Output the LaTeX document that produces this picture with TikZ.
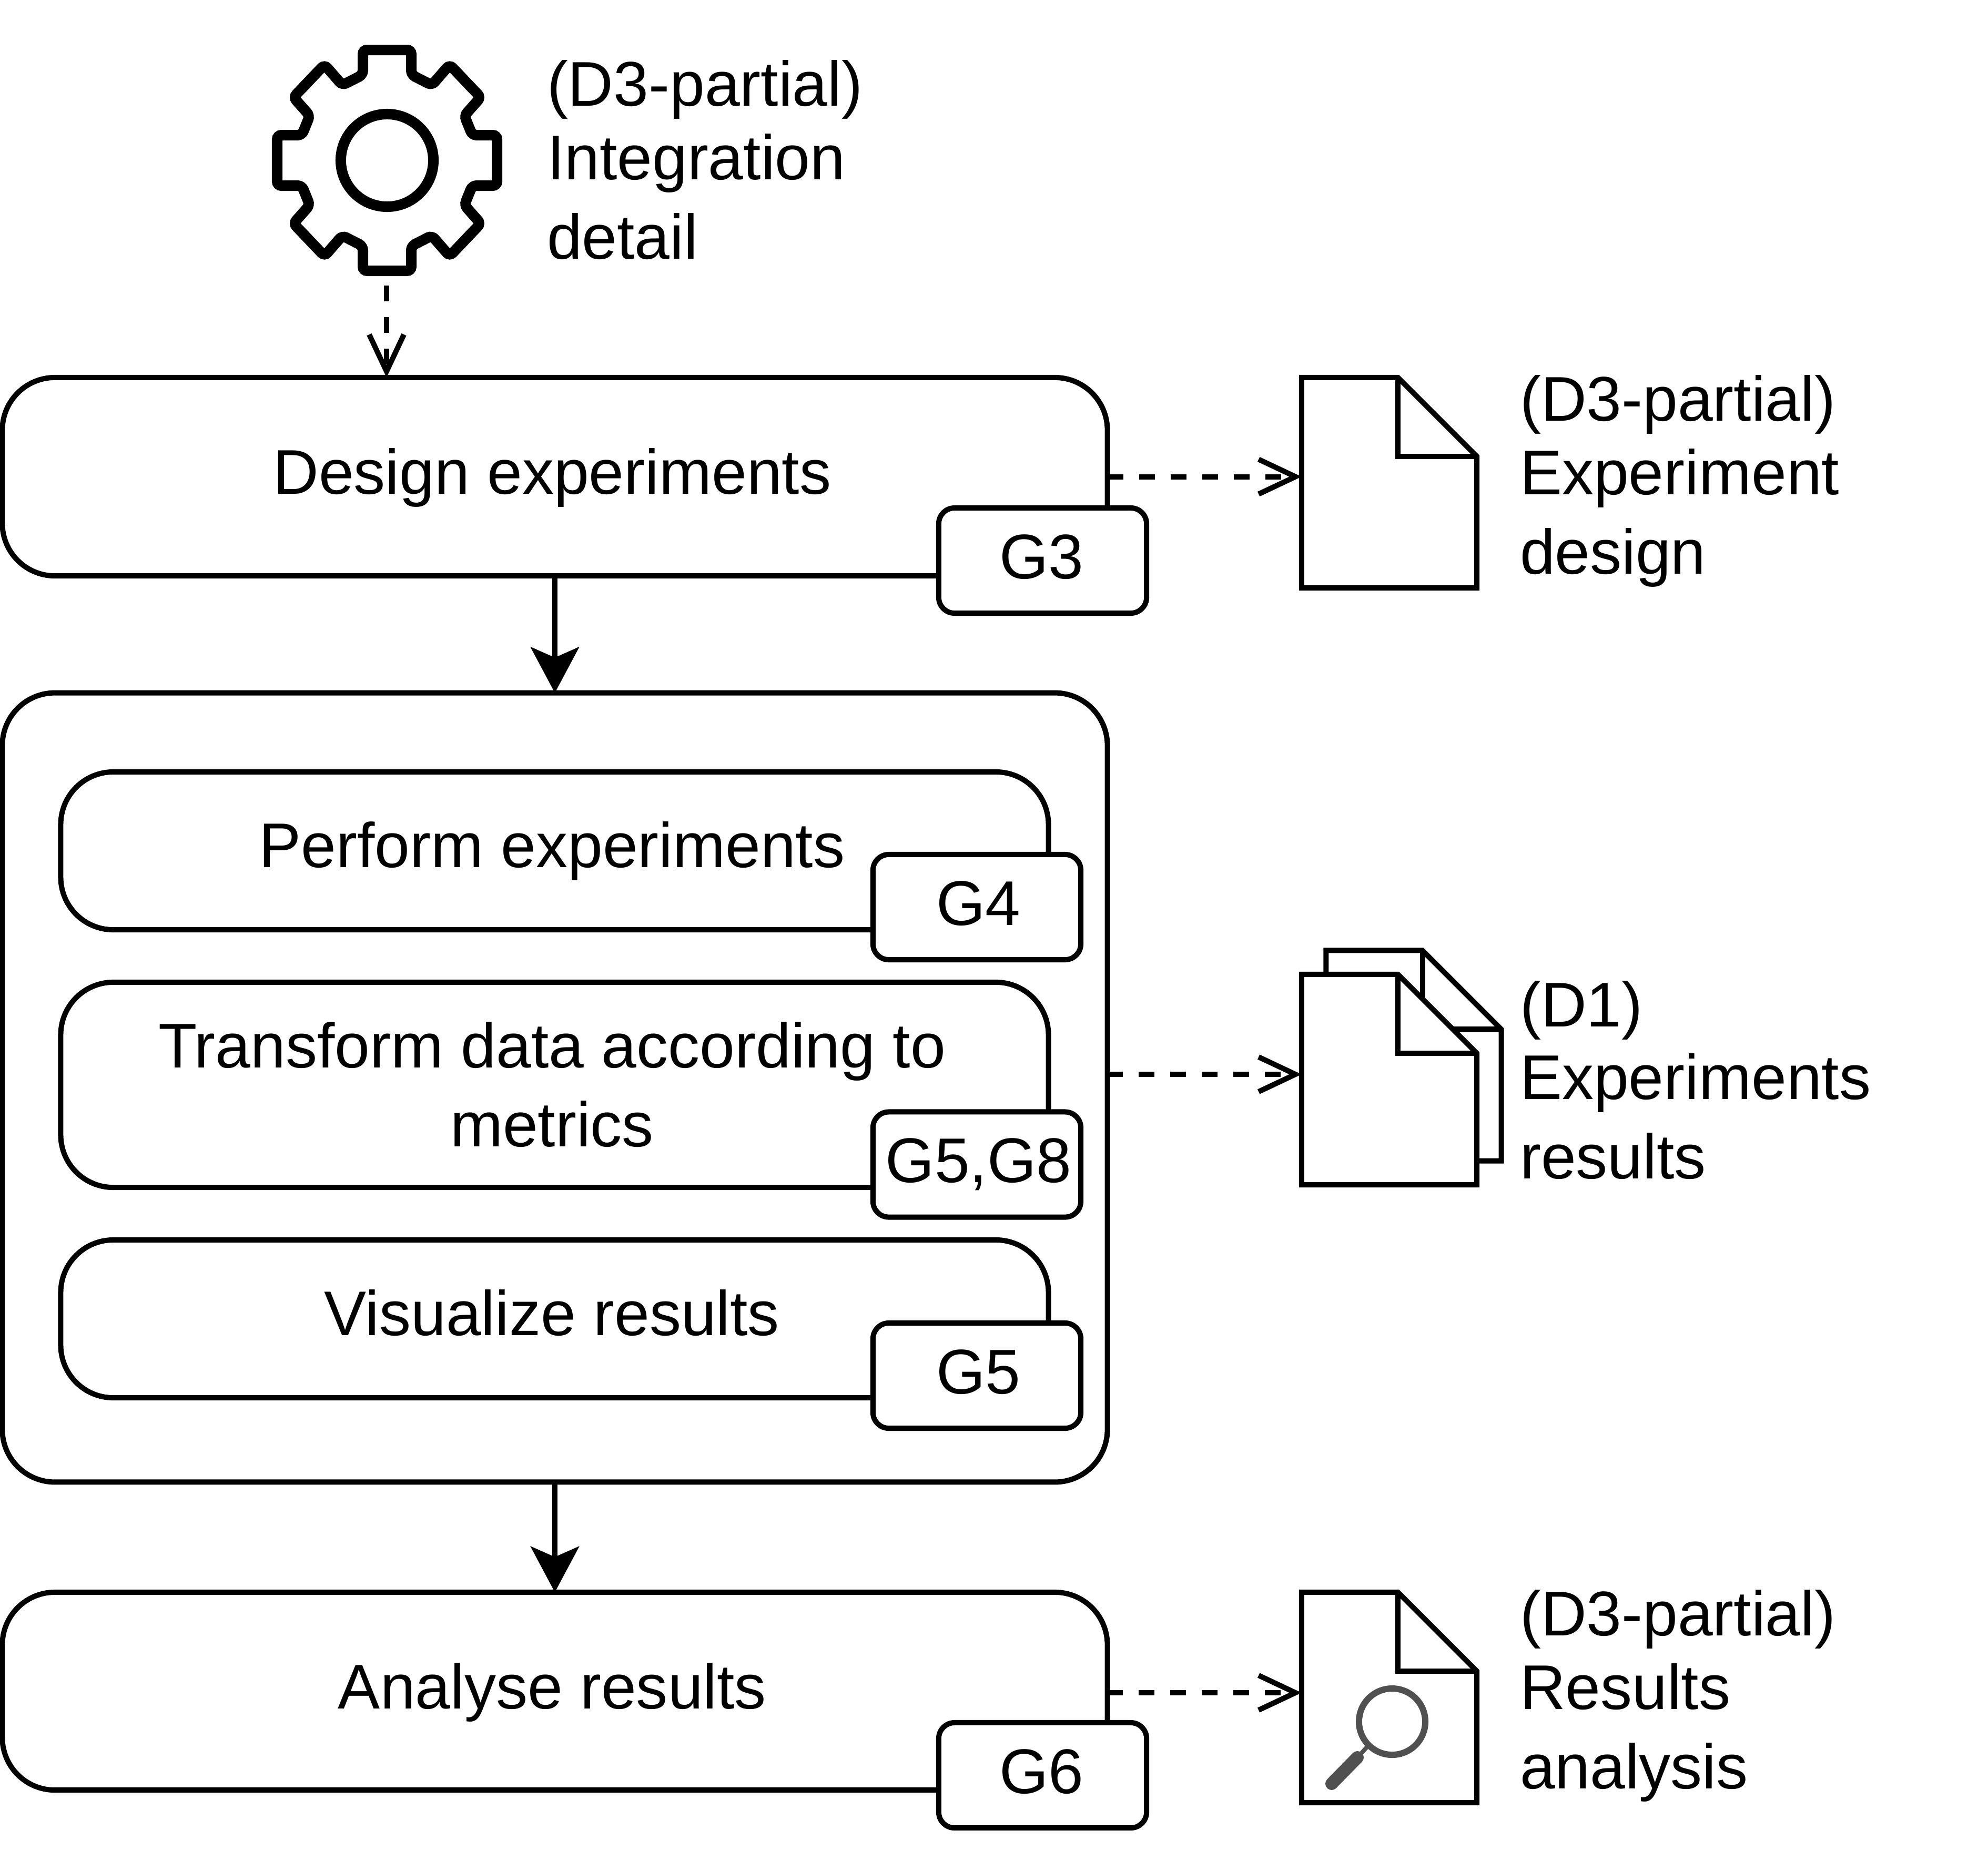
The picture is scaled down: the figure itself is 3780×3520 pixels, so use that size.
\documentclass[tikz,border=0pt]{standalone}
\usepackage{fontspec}
\setmainfont{Liberation Sans}
\usetikzlibrary{arrows.meta,calc}
\definecolor{lensgray}{HTML}{505050}
\newcommand{\mtxt}[1]{\hbox{#1\kern0.1cm}}
\newcommand{\tagr}[1]{\hbox{\kern0.06cm #1}}
\newcommand{\tagl}[1]{\hbox{#1\kern0.04cm}}
\tikzset{
  stroke/.style={line width=0.1cm,draw=black,line join=miter},
  basebox/.style={stroke,fill=white,rectangle,inner sep=0pt,outer sep=0pt,align=center,
    font=\fontsize{34.14pt}{1.5cm}\selectfont},
  mainbox/.style={basebox,rounded corners=1cm,text height=0.65cm,text depth=0pt},
  tagbox/.style={basebox,rounded corners=0.3cm,minimum width=3.95cm,minimum height=2cm,
    text height=0.68cm,text depth=0pt},
  docnode/.style={rectangle,inner sep=0pt,outer sep=0pt,minimum width=3.33cm,minimum height=4cm},
  docline/.style={stroke,fill=white},
  doclabel/.style={inner sep=0pt,outer sep=0pt,align=left,anchor=base west,
    font=\fontsize{34.14pt}{1.5cm}\selectfont},
  flowarrow/.style={line width=0.1cm,-{Stealth[length=0.87cm,width=0.92cm,inset=0.2cm]}},
  dataarrow/.style={line width=0.1cm,dash pattern=on 0.3cm off 0.3cm,
    -{Straight Barb[length=0.7cm,width=0.66cm]}},
}
\newcommand{\docdraw}[1]{%
  \draw[docline] (#1.north west) -- ([xshift=-1.5cm]#1.north east)
    -- ([yshift=-1.5cm]#1.north east) -- (#1.south east) -- (#1.south west) -- cycle;
  \draw[stroke] ([xshift=-1.5cm]#1.north east) -- ([xshift=-1.5cm,yshift=-1.5cm]#1.north east)
    -- ([yshift=-1.5cm]#1.north east);
}
\begin{document}
\begin{tikzpicture}[x=0.01cm,y=-0.01cm]
\useasboundingbox (0,0) rectangle (3780,3520);

% main boxes
\node[mainbox,minimum width=21cm,minimum height=3.77cm] (design) at (1055,906.5) {\mtxt{Design experiments}};
\node[mainbox,minimum width=21cm,minimum height=15cm,text height=0pt] (cont) at (1055,2068) {};
\node[mainbox,minimum width=18.77cm,minimum height=3cm,text height=0.62cm] (perform) at (1054.5,1618) {\mtxt{Perform experiments}};
\node[mainbox,minimum width=18.77cm,minimum height=3.9cm,text height=2.34cm] (transform) at (1054.5,2063) {\mtxt{Transform data according to}\\\mtxt{metrics}};
\node[mainbox,minimum width=18.77cm,minimum height=3cm,text height=0.62cm] (visual) at (1054.5,2508) {\mtxt{Visualize results}};
\node[mainbox,minimum width=21cm,minimum height=3.76cm,text height=0.66cm] (analyse) at (1055,3216) {\mtxt{Analyse results}};

% tags
\node[tagbox] (g3) at (1982.5,1066) {\tagl{G3}};
\node[tagbox] (g4) at (1857.5,1725) {\tagr{G4}};
\node[tagbox] (g58) at (1857.5,2214.5) {\tagr{G5,G8}};
\node[tagbox] (g5) at (1857.5,2616) {\tagr{G5}};
\node[tagbox] (g6) at (1982.5,3376) {\tagl{G6}};

% gear
\node[rectangle,inner sep=0pt,outer sep=0pt,minimum width=4.4cm,minimum height=4.4cm] (gear) at (736,305) {};
\begin{scope}[shift={(gear.center)}]
\draw[line width=0.2cm,rounded corners=0.08cm]
  (-46,-210) -- (46,-210) -- (46,-163) -- (85,-143) -- (119,-182) -- (178,-120)
  -- (147,-85) -- (162,-48) -- (209,-48) -- (209,48) -- (162,48) -- (147,85)
  -- (178,120) -- (119,182) -- (85,143) -- (46,163) -- (46,210) -- (-46,210)
  -- (-46,163) -- (-85,143) -- (-119,182) -- (-178,120) -- (-147,85) -- (-162,48)
  -- (-209,48) -- (-209,-48) -- (-162,-48) -- (-147,-85) -- (-178,-120)
  -- (-119,-182) -- (-85,-143) -- (-46,-163) -- cycle;
\end{scope}
\draw[line width=0.2cm] (gear.center) circle (0.88cm);

% documents
\node[docnode] (docA) at (2641.5,918) {};
\docdraw{docA}
\node[docnode] (docBback) at (2688,2007.5) {};
\docdraw{docBback}
\node[docnode] (docB) at (2641.5,2053) {};
\docdraw{docB}
\node[docnode] (docC) at (2641.5,3228) {};
\docdraw{docC}

% magnifier
\draw[lensgray,line width=0.12cm] (2647,3274) circle (0.63cm);
\draw[lensgray,line width=0.08cm] (2603,3318) -- (2583,3340);
\draw[lensgray,line width=0.24cm,line cap=round] (2581,3342) -- (2532,3392);

% labels
\node[doclabel] (lgear) at (1040,492) {(D3-partial)\\[-0.1cm]Integration\\detail};
\node[doclabel] (la) at (2890,1091) {(D3-partial)\\[-0.1cm]Experiment\\design};
\node[doclabel] (lb) at (2890,2241) {(D1)\\[-0.12cm]Experiments\\results};
\node[doclabel] (lc) at (2890,3401) {(D3-partial)\\[-0.1cm]Results\\analysis};

% connectors
\coordinate (gs) at (735,543);
\coordinate (cs) at (2105,2043);
\coordinate (as) at (2105,3219);
\draw[dataarrow] (gs) -- (gs |- design.north);
\draw[dataarrow] (design.east) -- (design.east -| docA.west);
\draw[dataarrow] (cs) -- (cs -| docB.west);
\draw[dataarrow] (as) -- (as -| docC.west);
\draw[flowarrow] (design.south) -- (cont.north);
\draw[flowarrow] (cont.south) -- (analyse.north);
\end{tikzpicture}
\end{document}
